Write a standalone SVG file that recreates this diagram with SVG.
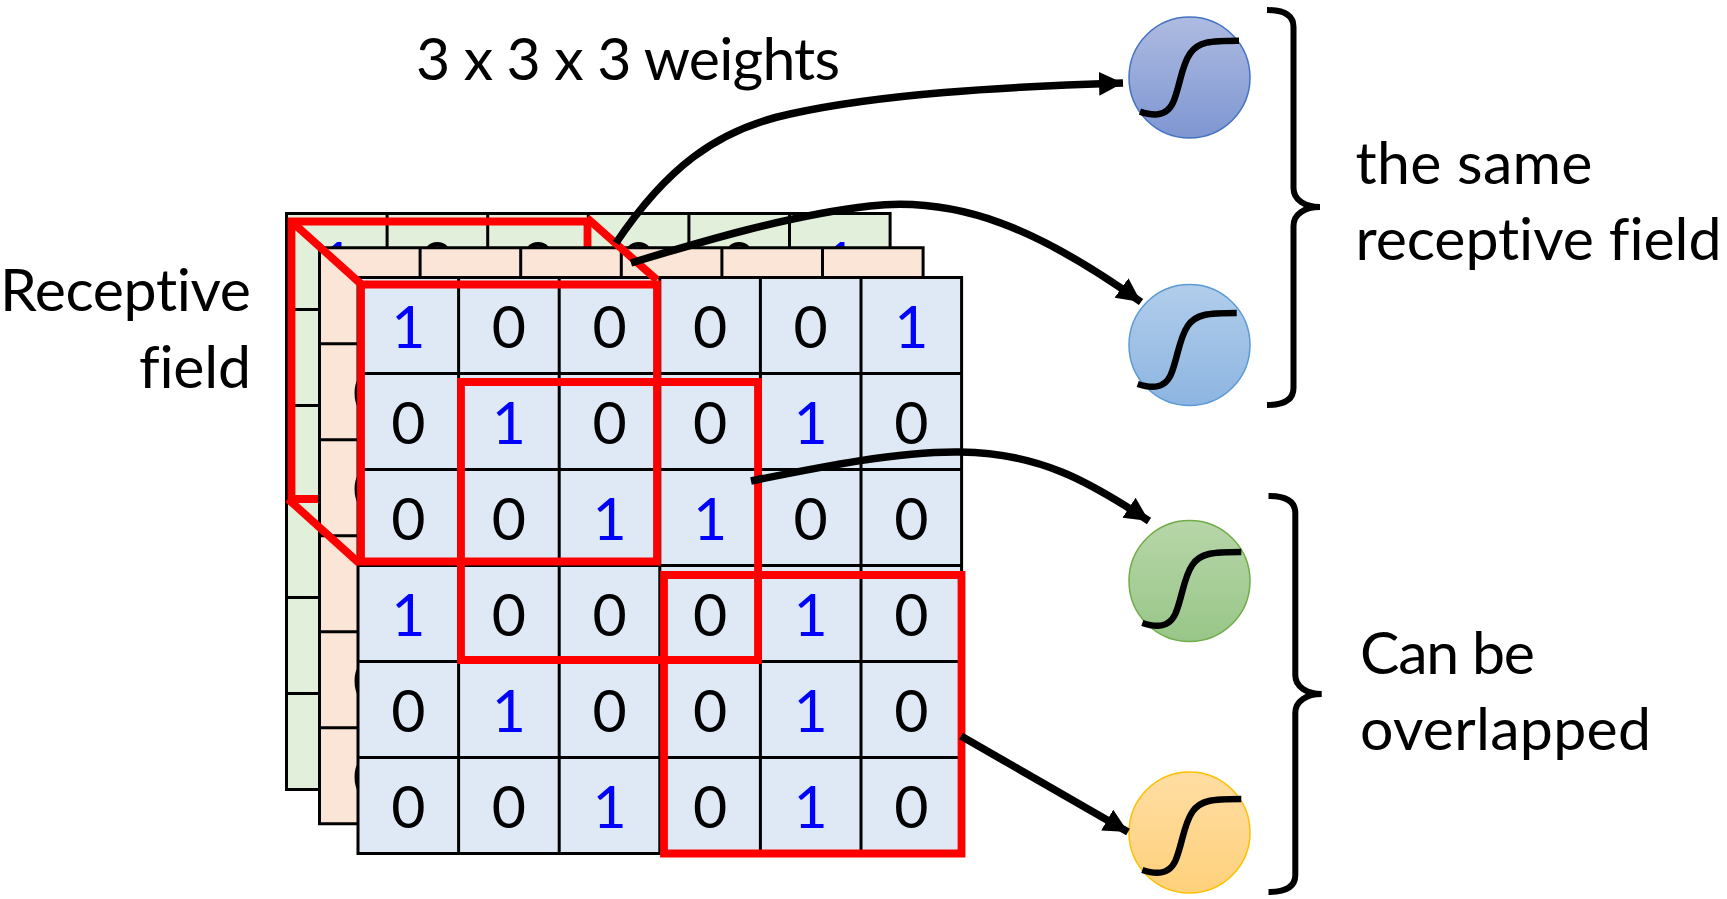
<svg xmlns="http://www.w3.org/2000/svg" width="1727" height="899" viewBox="0 0 1727 899">
  <style>
    text { font-family: Lato, "Open Sans", "Liberation Sans", sans-serif; fill: #000; font-variant-ligatures: none; }
    .label { font-size: 59px; }
    .d { font-size: 59px; text-anchor: middle; }
    .one { fill: #0000ff; }
    .cells { stroke: #000; stroke-width: 3; }
    .box { fill: none; stroke: #ff0000; stroke-width: 7.8; stroke-linejoin: miter; }
    .wire { fill: none; stroke: #000; stroke-width: 7.5; }
    .brace { fill: none; stroke: #000; stroke-width: 6; }
    .sig { fill: none; stroke: #000; stroke-width: 6.5; }
  </style>
  <defs>
    <linearGradient id="gPurple" x1="0" y1="0" x2="0" y2="1"><stop offset="0" stop-color="#aebbe1"/><stop offset="1" stop-color="#7e96d2"/></linearGradient>
    <linearGradient id="gBlue" x1="0" y1="0" x2="0" y2="1"><stop offset="0" stop-color="#b1cdeb"/><stop offset="1" stop-color="#8db5e1"/></linearGradient>
    <linearGradient id="gGreen" x1="0" y1="0" x2="0" y2="1"><stop offset="0" stop-color="#b7d6a8"/><stop offset="1" stop-color="#98c688"/></linearGradient>
    <linearGradient id="gGold" x1="0" y1="0" x2="0" y2="1"><stop offset="0" stop-color="#ffdda3"/><stop offset="1" stop-color="#fed17b"/></linearGradient>
    <marker id="head" markerUnits="userSpaceOnUse" markerWidth="26" markerHeight="26" refX="24" refY="12" orient="auto">
      <path d="M0,0 L24,12 L0,24 Z" fill="#000"/>
    </marker>
    <path id="sig" class="sig" d="M0,0 C12,4 26,6 33,-9 C40,-25 41,-45 50,-58 C58,-70 70,-71 99,-71"/>
    <!-- 6 x 6 feature map: grid lines and values -->
    <g id="map">
      <g class="cells">
        <path fill="none" d="M0,0H603.6V576H0Z M100.6,0V576 M201.2,0V576 M301.8,0V576 M402.4,0V576 M503,0V576 M0,96H603.6 M0,192H603.6 M0,288H603.6 M0,384H603.6 M0,480H603.6"/>
      </g>
      <g>
        <text class="d one" x="50.3" y="70">1</text><text class="d" x="150.9" y="70">0</text><text class="d" x="251.5" y="70">0</text><text class="d" x="352.1" y="70">0</text><text class="d" x="452.7" y="70">0</text><text class="d one" x="553.3" y="70">1</text>
        <text class="d" x="50.3" y="166">0</text><text class="d one" x="150.9" y="166">1</text><text class="d" x="251.5" y="166">0</text><text class="d" x="352.1" y="166">0</text><text class="d one" x="452.7" y="166">1</text><text class="d" x="553.3" y="166">0</text>
        <text class="d" x="50.3" y="262">0</text><text class="d" x="150.9" y="262">0</text><text class="d one" x="251.5" y="262">1</text><text class="d one" x="352.1" y="262">1</text><text class="d" x="452.7" y="262">0</text><text class="d" x="553.3" y="262">0</text>
        <text class="d one" x="50.3" y="358">1</text><text class="d" x="150.9" y="358">0</text><text class="d" x="251.5" y="358">0</text><text class="d" x="352.1" y="358">0</text><text class="d one" x="452.7" y="358">1</text><text class="d" x="553.3" y="358">0</text>
        <text class="d" x="50.3" y="454">0</text><text class="d one" x="150.9" y="454">1</text><text class="d" x="251.5" y="454">0</text><text class="d" x="352.1" y="454">0</text><text class="d one" x="452.7" y="454">1</text><text class="d" x="553.3" y="454">0</text>
        <text class="d" x="50.3" y="550">0</text><text class="d" x="150.9" y="550">0</text><text class="d one" x="251.5" y="550">1</text><text class="d" x="352.1" y="550">0</text><text class="d one" x="452.7" y="550">1</text><text class="d" x="553.3" y="550">0</text>
      </g>
    </g>
  </defs>

  <g id="layer-green">
    <rect x="286.5" y="213.5" width="603.6" height="576" fill="#e2efda"/>
    <use href="#map" x="286.5" y="213.5"/>
    <path class="box" d="M291.5,221.5H587.5V499H291.5Z"/>
  </g>
  <g id="layer-orange">
    <rect x="319.5" y="247.7" width="603.6" height="576" fill="#fbe5d6"/>
    <use href="#map" x="319.5" y="247.7"/>
  </g>
  <g id="layer-blue">
    <rect x="358" y="277.5" width="603.6" height="576" fill="#dee9f5"/>
    <use href="#map" x="358" y="277.5"/>
  </g>

  <g id="receptive-fields">
    <path class="box" d="M361,284.5H657V561.5H361Z"/>
    <path class="box" d="M291,221L361,284 M587,218L657,280 M288,499L359,563"/>
    <path class="box" d="M461,382H758V660H461Z"/>
    <path class="box" d="M664,575H961.5V853.5H664Z"/>
  </g>

  <g id="neuron-1">
    <circle cx="1189.5" cy="77.5" r="60.5" fill="url(#gPurple)" stroke="#4472c4" stroke-width="1.5"/>
    <use href="#sig" x="1140" y="111.7"/>
  </g>
  <g id="neuron-2">
    <circle cx="1189.5" cy="345" r="60.5" fill="url(#gBlue)" stroke="#5b9bd5" stroke-width="1.5"/>
    <use href="#sig" x="1137.7" y="384"/>
  </g>
  <g id="neuron-3">
    <circle cx="1189.5" cy="581" r="60.5" fill="url(#gGreen)" stroke="#70ad47" stroke-width="1.5"/>
    <use href="#sig" x="1142.3" y="623"/>
  </g>
  <g id="neuron-4">
    <circle cx="1189.5" cy="832.5" r="60.5" fill="url(#gGold)" stroke="#ffc000" stroke-width="1.5"/>
    <use href="#sig" x="1142.3" y="870"/>
  </g>

  <g id="connectors">
    <path class="wire" marker-end="url(#head)" d="M616,243 C665,170 715,130 790,114 C880,94 1000,87 1123,83"/>
    <path class="wire" marker-end="url(#head)" d="M631,263 C700,242 790,215 870,206 C960,196 1040,230 1141,302"/>
    <path class="wire" marker-end="url(#head)" d="M751,481 C820,467 900,451 960,452 C1040,453 1090,482 1149,521"/>
    <path class="wire" marker-end="url(#head)" d="M961,736 L1128,832"/>
  </g>

  <g id="brace-top">
    <path class="brace" d="M1267,10 C1282,10 1293.5,14 1293.5,27 L1293.5,188 C1293.5,200 1305,207 1320,207 C1305,207 1293.5,214 1293.5,226 L1293.5,388 C1293.5,401 1282,405 1267,405"/>
  </g>
  <g id="brace-bottom">
    <path class="brace" d="M1268.5,496 C1284,496 1295.3,500 1295.3,513 L1295.3,675 C1295.3,687 1307,694 1321.7,694 C1307,694 1295.3,701 1295.3,713 L1295.3,875 C1295.3,888 1284,892 1268.5,892"/>
  </g>

  <g id="labels">
    <text class="label" x="416" y="80" textLength="424">3 x 3 x 3 weights</text>
    <text class="label" x="251" y="311" text-anchor="end" textLength="251">Receptive</text>
    <text class="label" x="251" y="388" text-anchor="end" textLength="112">field</text>
    <text class="label" x="1355.5" y="184" textLength="237">the same</text>
    <text class="label" x="1355.5" y="260" textLength="366">receptive field</text>
    <text class="label" x="1360" y="674" textLength="175">Can be</text>
    <text class="label" x="1360" y="750" textLength="291">overlapped</text>
  </g>
</svg>
